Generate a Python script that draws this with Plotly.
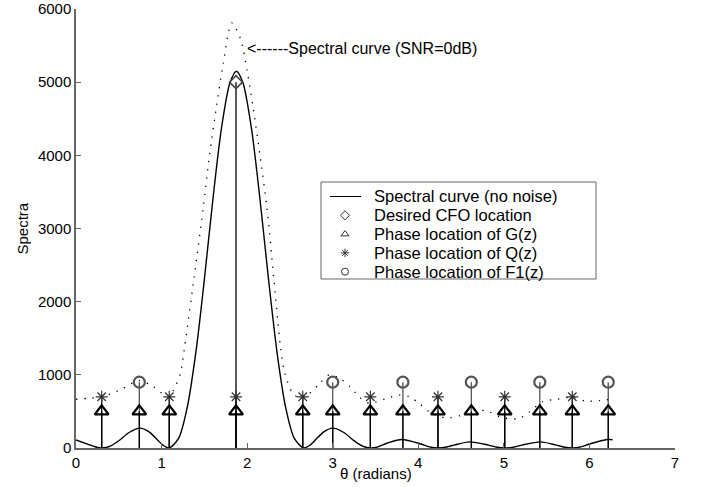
import plotly.graph_objects as go

# ---- data ----
theta_clean = [0.0, 0.15, 0.23, 0.305, 0.40, 0.50, 0.62, 0.75, 0.85, 0.95, 1.02, 1.09,
               1.2, 1.3, 1.408, 1.5, 1.6, 1.7, 1.8, 1.875, 1.95, 2.05, 2.15, 2.25,
               2.35, 2.45, 2.55, 2.66, 2.73, 2.8, 2.9, 3.0, 3.13, 3.25, 3.35, 3.445,
               3.53, 3.64, 3.81, 4.03, 4.13, 4.23, 4.32, 4.42, 4.60, 4.82, 4.92, 5.01,
               5.11, 5.21, 5.43, 5.61, 5.71, 5.80, 5.90, 6.00, 6.21, 6.27]
spec_clean = [109, 47, 13, 0, 25, 99, 212, 271, 224, 114, 35, 0,
              134, 555, 1373, 2304, 3400, 4371, 4996, 5150, 4996, 4371, 3400, 2304,
              1301, 555, 134, 0, 35, 114, 224, 271, 212, 99, 25, 0,
              16, 68, 117, 55, 15, 0, 11, 40, 84, 40, 11, 0,
              11, 40, 84, 40, 11, 0, 15, 55, 117, 112]

theta_noisy = [0.0, 0.15, 0.30, 0.51, 0.74, 0.90, 1.08, 1.14, 1.22, 1.27, 1.38, 1.486,
               1.56, 1.64, 1.72, 1.82, 1.92, 2.0, 2.07, 2.15, 2.232, 2.31, 2.389, 2.44,
               2.535, 2.63, 2.73, 2.85, 2.96, 3.08, 3.20, 3.31, 3.43, 3.51, 3.63, 3.78,
               3.90, 4.01, 4.13, 4.25, 4.36, 4.48, 4.56, 4.71, 4.83, 4.95, 5.06, 5.18,
               5.30, 5.45, 5.61, 5.80, 5.96, 6.11, 6.25]
spec_noisy = [665, 680, 700, 790, 920, 840, 700, 790, 1020, 1390, 2330, 3276,
              4000, 4655, 5250, 5810, 5600, 5150, 4655, 4000, 3276, 2330, 1390, 1023,
              747, 678, 747, 885, 1000, 954, 839, 700, 609, 632, 678, 724,
              700, 609, 494, 430, 410, 440, 494, 517, 494, 425, 402, 402,
              494, 632, 665, 692, 641, 646, 665]

cfo_theta = [1.87]
cfo_value = [5000]
g_theta = [0.30, 0.74, 1.09, 1.87, 2.65, 3.00, 3.44, 3.82, 4.23, 4.62, 5.01, 5.42, 5.80, 6.22]
g_value = [500] * len(g_theta)
q_theta = [0.30, 1.09, 1.87, 2.65, 3.44, 4.23, 5.01, 5.80]
q_value = [700] * len(q_theta)
f1_theta = [0.74, 3.00, 3.82, 4.62, 5.42, 6.22]
f1_value = [900] * len(f1_theta)

x_ticks = [0, 1, 2, 3, 4, 5, 6, 7]
y_ticks = [0, 1000, 2000, 3000, 4000, 5000, 6000]

legend_labels = ["Spectral curve (no noise)", "Desired CFO location",
                 "Phase location of G(z)", "Phase location of Q(z)",
                 "Phase location of F1(z)"]
legend_symbols = [None, "diamond-open", "triangle-up-open", "asterisk-open", "circle-open"]

FONT = "Liberation Sans, Arial, sans-serif"

# ---- layout geometry (pixels) ----
W, H = 703, 487
ML, MR, MT, MB = 76, 28, 9, 39
PW, PH = W - ML - MR, H - MT - MB


def px2paper_x(px):
    return (px - ML) / PW


def px2paper_y(py):
    return (H - MB - py) / PH


def stems(xs, ys):
    sx, sy = [], []
    for a, b in zip(xs, ys):
        sx += [a, a, None]
        sy += [0, b, None]
    return sx, sy


fig = go.Figure()

# stems
for xs, ys, col in [(f1_theta, f1_value, "#555"), (q_theta, q_value, "black"),
                    (g_theta, g_value, "black"), (cfo_theta, cfo_value, "black")]:
    sx, sy = stems(xs, ys)
    fig.add_trace(go.Scatter(x=sx, y=sy, mode="lines", line=dict(color=col, width=1.3),
                             showlegend=False, hoverinfo="skip"))

# noisy spectrum (dotted)
fig.add_trace(go.Scatter(x=theta_noisy, y=spec_noisy, mode="lines",
                         line=dict(color="black", width=1.3, dash="1.3px,7px", shape="spline", smoothing=0.8),
                         showlegend=False))
# clean spectrum
fig.add_trace(go.Scatter(x=theta_clean, y=spec_clean, mode="lines",
                         line=dict(color="black", width=1.4, shape="spline", smoothing=0.8),
                         showlegend=False))

# markers
fig.add_trace(go.Scatter(x=g_theta, y=g_value, mode="markers", showlegend=False,
                         marker=dict(symbol="triangle-up-open", size=12, color="black",
                                     line=dict(width=2.3, color="black"))))
fig.add_trace(go.Scatter(x=q_theta, y=q_value, mode="markers", showlegend=False,
                         marker=dict(symbol="asterisk-open", size=10, color="#333",
                                     line=dict(width=1.2, color="#333"))))
fig.add_trace(go.Scatter(x=f1_theta, y=f1_value, mode="markers", showlegend=False,
                         marker=dict(symbol="circle-open", size=11, color="#555",
                                     line=dict(width=2.2, color="#555"))))
fig.add_trace(go.Scatter(x=cfo_theta, y=cfo_value, mode="markers", showlegend=False,
                         marker=dict(symbol="diamond-open", size=10, color="#444",
                                     line=dict(width=1.6, color="#444"))))

# ---- manual legend (box, line sample, symbols, labels) ----
box_l, box_r, box_t, box_b = 321, 596, 182, 279
row_y = [196.5, 215.3, 234.1, 252.9, 271.7]
sym_x = 345
text_x = 373

shapes = [
    dict(type="rect", xref="paper", yref="paper",
         x0=px2paper_x(box_l), x1=px2paper_x(box_r), y0=px2paper_y(box_b), y1=px2paper_y(box_t),
         line=dict(color="#666", width=1), fillcolor="white", layer="below"),
    dict(type="line", xref="paper", yref="paper",
         x0=px2paper_x(330), x1=px2paper_x(361), y0=px2paper_y(row_y[0]), y1=px2paper_y(row_y[0]),
         line=dict(color="black", width=1), layer="below"),
]

sym_idx = [i for i, s in enumerate(legend_symbols) if s]
fig.add_trace(go.Scatter(
    x=[px2paper_x(sym_x)] * len(sym_idx), y=[px2paper_y(row_y[i]) for i in sym_idx],
    xaxis="x2", yaxis="y2", mode="markers", showlegend=False, hoverinfo="skip",
    marker=dict(symbol=[legend_symbols[i] for i in sym_idx], size=7, color="#333",
                line=dict(width=1, color="#333"))))

annotations = []
for lbl, ry in zip(legend_labels, row_y):
    annotations.append(dict(x=px2paper_x(text_x), y=px2paper_y(ry), xref="paper", yref="paper",
                            text=lbl, showarrow=False, xanchor="left", yanchor="middle",
                            font=dict(family=FONT, size=16.5, color="black"), borderpad=0))

annotations += [
    dict(x=1.975, y=5467, xref="x", yref="y", text="<------Spectral curve (SNR=0dB)",
         showarrow=False, xanchor="left", yanchor="middle",
         font=dict(family=FONT, size=16, color="black")),
    dict(x=3.5, y=px2paper_y(473), xref="x", yref="paper", text="θ (radians)", showarrow=False,
         xanchor="center", yanchor="middle", font=dict(family=FONT, size=15, color="black")),
    dict(x=px2paper_x(22), y=0.5, xref="paper", yref="paper", text="Spectra", showarrow=False,
         textangle=-90, xanchor="center", yanchor="middle",
         font=dict(family=FONT, size=15, color="black")),
]

axis_common = dict(showgrid=False, zeroline=False, showline=True, linecolor="#666", linewidth=1.5,
                   ticks="inside", ticklen=5, tickcolor="#666", tickwidth=1, automargin=False,
                   tickfont=dict(family=FONT, size=15, color="black"))

fig.update_layout(
    width=W, height=H,
    margin=dict(l=ML, r=MR, t=MT, b=MB, autoexpand=False),
    paper_bgcolor="white", plot_bgcolor="white",
    font=dict(family=FONT, size=15, color="black"),
    showlegend=False,
    xaxis=dict(range=[0, 7], tickvals=x_ticks, **axis_common),
    yaxis=dict(range=[0, 6000], tickvals=y_ticks, **axis_common),
    xaxis2=dict(range=[0, 1], overlaying="x", visible=False, fixedrange=True),
    yaxis2=dict(range=[0, 1], overlaying="y", visible=False, fixedrange=True),
    shapes=shapes,
    annotations=annotations,
)

fig.write_html("out.html")
